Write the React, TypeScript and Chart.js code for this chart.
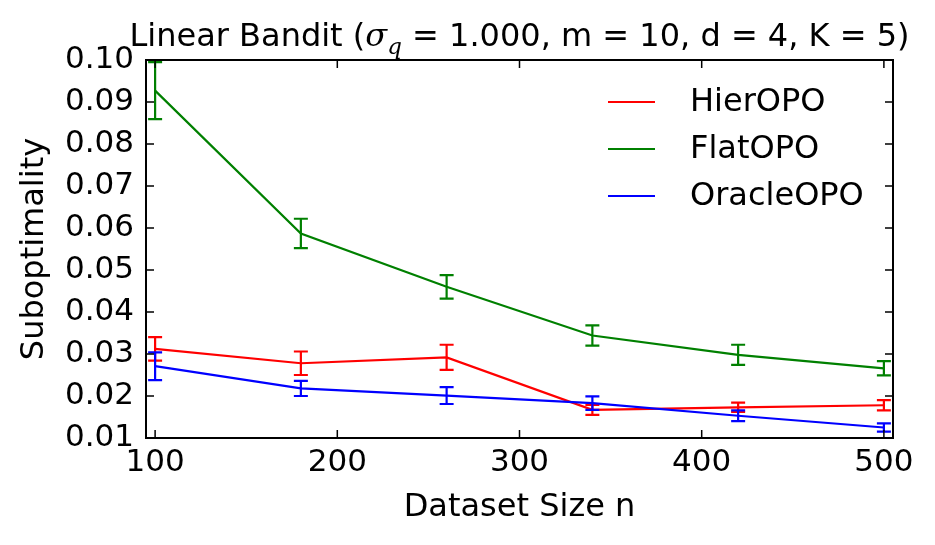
import React, { useEffect, useRef } from "react";
import { Chart, registerables } from "chart.js";

Chart.register(...registerables);

const nValues = [100, 180, 260, 340, 420, 500];
const hierMean = [0.0312, 0.0278, 0.0292, 0.0167, 0.0173, 0.0178];
const hierErr = [0.0028, 0.0028, 0.003, 0.0012, 0.0011, 0.0012];
const flatMean = [0.0927, 0.0587, 0.046, 0.0344, 0.0298, 0.0266];
const flatErr = [0.0068, 0.0035, 0.0028, 0.0024, 0.0024, 0.0017];
const oracleMean = [0.0271, 0.0218, 0.0201, 0.0183, 0.0153, 0.0125];
const oracleErr = [0.0033, 0.0018, 0.002, 0.0016, 0.0013, 0.001];
const seriesNames = ["HierOPO", "FlatOPO", "OracleOPO"];
const seriesColors = ["#ff0000", "#008000", "#0000ff"];
const xTickValues = [100, 200, 300, 400, 500];
const yTickValues = [0.01, 0.02, 0.03, 0.04, 0.05, 0.06, 0.07, 0.08, 0.09, 0.1];

const FONT = "'DejaVu Sans', sans-serif";

const customPlugin = {
  id: "customPlugin",
  afterDatasetDraw(chart: any, args: any) {
    const ds: any = chart.data.datasets[args.index];
    const errs: number[] = ds.errors;
    if (!errs) return;
    const xs = chart.scales.x;
    const ys = chart.scales.y;
    const ctx = chart.ctx;
    ctx.save();
    ctx.strokeStyle = ds.borderColor;
    ctx.lineWidth = 2.2;
    ds.data.forEach((p: any, i: number) => {
      const px = xs.getPixelForValue(p.x);
      const top = ys.getPixelForValue(p.y + errs[i]);
      const bot = ys.getPixelForValue(p.y - errs[i]);
      ctx.beginPath();
      ctx.moveTo(px, top);
      ctx.lineTo(px, bot);
      ctx.moveTo(px - 7, top);
      ctx.lineTo(px + 7, top);
      ctx.moveTo(px - 7, bot);
      ctx.lineTo(px + 7, bot);
      ctx.stroke();
    });
    ctx.restore();
  },
  afterDraw(chart: any) {
    const ctx = chart.ctx;
    const a = chart.chartArea;
    const xs = chart.scales.x;
    const ys = chart.scales.y;
    ctx.save();
    // frame
    ctx.strokeStyle = "#000";
    ctx.lineWidth = 2;
    ctx.strokeRect(a.left, a.top, a.right - a.left, a.bottom - a.top);
    // ticks
    ctx.lineWidth = 1.5;
    const tl = 8;
    ctx.beginPath();
    xTickValues.forEach((v) => {
      const px = xs.getPixelForValue(v);
      ctx.moveTo(px, a.bottom);
      ctx.lineTo(px, a.bottom - tl);
      ctx.moveTo(px, a.top);
      ctx.lineTo(px, a.top + tl);
    });
    yTickValues.forEach((v) => {
      const py = ys.getPixelForValue(v);
      ctx.moveTo(a.left, py);
      ctx.lineTo(a.left + tl, py);
      ctx.moveTo(a.right, py);
      ctx.lineTo(a.right - tl, py);
    });
    ctx.stroke();

    // legend
    ctx.textBaseline = "middle";
    ctx.textAlign = "left";
    ctx.font = `32px ${FONT}`;
    seriesNames.forEach((name, i) => {
      const y = 102 + i * 47;
      ctx.strokeStyle = seriesColors[i];
      ctx.lineWidth = 2.2;
      ctx.beginPath();
      ctx.moveTo(608, y);
      ctx.lineTo(655, y);
      ctx.stroke();
      ctx.fillStyle = "#000";
      ctx.fillText(name, 690, y + 1);
    });

    // axis titles
    ctx.fillStyle = "#000";
    ctx.textAlign = "center";
    ctx.font = `32px ${FONT}`;
    ctx.fillText("Dataset Size n", (a.left + a.right) / 2, 508);
    ctx.save();
    ctx.translate(35, (a.top + a.bottom) / 2);
    ctx.rotate(-Math.PI / 2);
    ctx.fillText("Suboptimality", 0, 0);
    ctx.restore();

    // title with math
    const parts = [
      { t: "Linear Bandit (", f: `32px ${FONT}`, dy: 0 },
      { t: "\u03c3", f: `italic 32px 'DejaVu Serif', serif`, dy: 0 },
      { t: "q", f: `italic 23px 'DejaVu Serif', serif`, dy: 8 },
      { t: " = 1.000, m = 10, d = 4, K = 5)", f: `32px ${FONT}`, dy: 0 },
    ];
    ctx.textAlign = "left";
    ctx.textBaseline = "alphabetic";
    let total = 0;
    parts.forEach((p) => {
      ctx.font = p.f;
      total += ctx.measureText(p.t).width;
    });
    let x = (a.left + a.right) / 2 - total / 2;
    const base = 46;
    parts.forEach((p) => {
      ctx.font = p.f;
      ctx.fillText(p.t, x, base + p.dy);
      x += ctx.measureText(p.t).width;
    });
    ctx.restore();
  },
};

export default function App() {
  const ref = useRef<HTMLCanvasElement | null>(null);
  useEffect(() => {
    document.body.style.margin = "0";
    const means = [hierMean, flatMean, oracleMean];
    const errs = [hierErr, flatErr, oracleErr];
    const orders = [2, 1, 0];
    const chart = new Chart(ref.current as HTMLCanvasElement, {
      type: "line",
      data: {
        datasets: seriesNames.map((name, i) => ({
          label: name,
          data: nValues.map((n, j) => ({ x: n, y: means[i][j] })),
          errors: errs[i],
          borderColor: seriesColors[i],
          backgroundColor: seriesColors[i],
          borderWidth: 2.2,
          pointRadius: 0,
          tension: 0,
          fill: false,
          order: orders[i],
        })) as any,
      },
      options: {
        animation: false,
        responsive: false,
        devicePixelRatio: 1,
        layout: { padding: { left: 0, right: 42, top: 60, bottom: 0 } },
        plugins: {
          legend: { display: false },
          title: { display: false },
          tooltip: { enabled: false },
        },
        scales: {
          x: {
            type: "linear",
            min: 95,
            max: 505,
            grid: { display: false, drawTicks: false },
            border: { display: false },
            afterFit: (s: any) => {
              s.height = 107;
            },
            afterBuildTicks: (s: any) => {
              s.ticks = xTickValues.map((v) => ({ value: v }));
            },
            ticks: {
              font: { family: FONT, size: 31 },
              color: "#000",
              padding: 6,
              maxRotation: 0,
              callback: (v: any) => String(v),
            },
          },
          y: {
            type: "linear",
            min: 0.01,
            max: 0.1,
            grid: { display: false, drawTicks: false },
            border: { display: false },
            afterFit: (s: any) => {
              s.width = 146;
            },
            afterBuildTicks: (s: any) => {
              s.ticks = yTickValues.map((v) => ({ value: v }));
            },
            ticks: {
              font: { family: FONT, size: 31 },
              color: "#000",
              padding: 12,
              callback: (v: any) => Number(v).toFixed(2),
            },
          },
        },
      },
      plugins: [customPlugin],
    });
    return () => chart.destroy();
  }, []);
  return (
    <div style={{ position: "absolute", left: 0, top: 0, width: 935, height: 545 }}>
      <canvas ref={ref} width={935} height={545} style={{ width: 935, height: 545 }} />
    </div>
  );
}
